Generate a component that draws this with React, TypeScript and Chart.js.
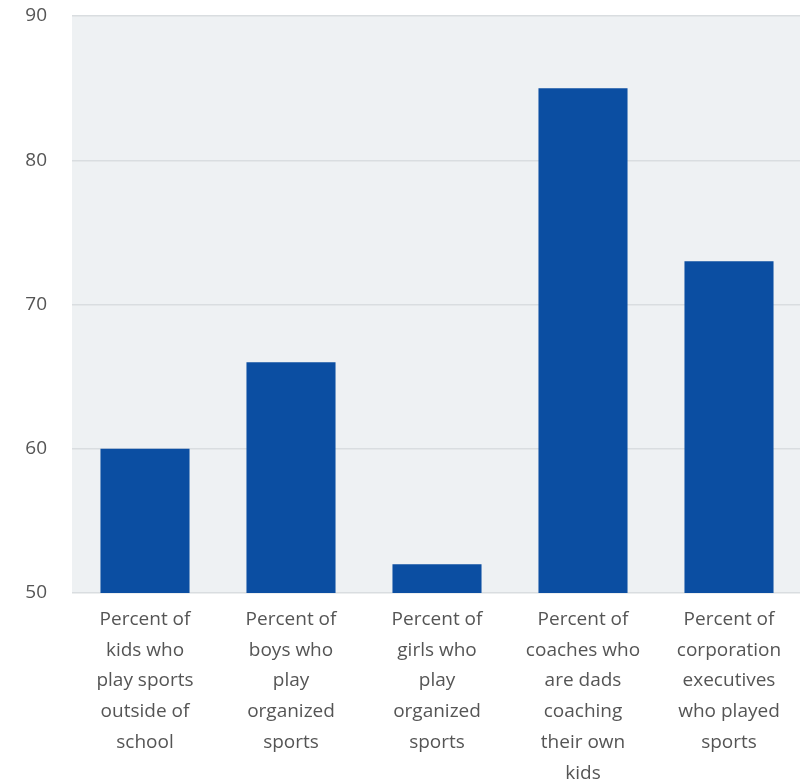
import React, { useEffect, useRef } from "react";
import { Chart, registerables } from "chart.js";

Chart.register(...registerables);

const categories: string[][] = [
  ["Percent of", "kids who", "play sports", "outside of", "school"],
  ["Percent of", "boys who", "play", "organized", "sports"],
  ["Percent of", "girls who", "play", "organized", "sports"],
  ["Percent of", "coaches who", "are dads", "coaching", "their own", "kids"],
  ["Percent of", "corporation", "executives", "who played", "sports"],
];
const values: number[] = [60, 66, 52, 85, 73];
const yTicks: number[] = [50, 60, 70, 80, 90];

const FONT = "'Open Sans', 'DejaVu Sans', sans-serif";

const plotBg = {
  id: "plotBg",
  beforeDraw(chart: any) {
    const { ctx, chartArea } = chart;
    if (!chartArea) return;
    ctx.save();
    ctx.fillStyle = "#eef1f3";
    ctx.fillRect(chartArea.left, chartArea.top, chartArea.right - chartArea.left, chartArea.bottom - chartArea.top);
    ctx.restore();
  },
};

export default function App() {
  const ref = useRef<HTMLCanvasElement | null>(null);
  useEffect(() => {
    document.body.style.margin = "0";
    const chart = new Chart(ref.current!, {
      type: "bar",
      data: {
        labels: categories,
        datasets: [
          {
            data: values,
            backgroundColor: "#0b4ea2",
            barPercentage: 0.61,
            categoryPercentage: 1,
          },
        ],
      },
      plugins: [plotBg],
      options: {
        responsive: false,
        animation: false,
        layout: { padding: { top: 0, right: 1, bottom: 0, left: 0 } },
        plugins: { legend: { display: false }, tooltip: { enabled: false } },
        scales: {
          x: {
            grid: { display: false, drawTicks: false },
            border: { display: false },
            ticks: {
              color: "#555",
              padding: 11,
              maxRotation: 0,
              autoSkip: false,
              font: { family: FONT, size: 19, lineHeight: 1.62 },
            },
            afterFit(scale: any) {
              scale.height = 191;
              scale.paddingLeft = 0;
              scale.paddingRight = 0;
              scale.paddingTop = 0;
              scale.paddingBottom = 0;
            },
          },
          y: {
            min: 50,
            max: 90,
            afterBuildTicks(scale: any) {
              scale.ticks = yTicks.map((v) => ({ value: v }));
            },
            grid: { color: "#d9dde0", lineWidth: 1.5, drawTicks: false },
            border: { display: false },
            ticks: {
              color: "#555",
              padding: 25,
              font: { family: FONT, size: 19 },
            },
            afterFit(scale: any) {
              scale.width = 72;
              scale.paddingTop = 16;
              scale.paddingBottom = 0;
            },
          },
        },
      },
    });
    return () => chart.destroy();
  }, []);
  return (
    <div style={{ width: 800, height: 784, overflow: "hidden" }}>
      <canvas ref={ref} width={803} height={784} style={{ display: "block" }} />
    </div>
  );
}
